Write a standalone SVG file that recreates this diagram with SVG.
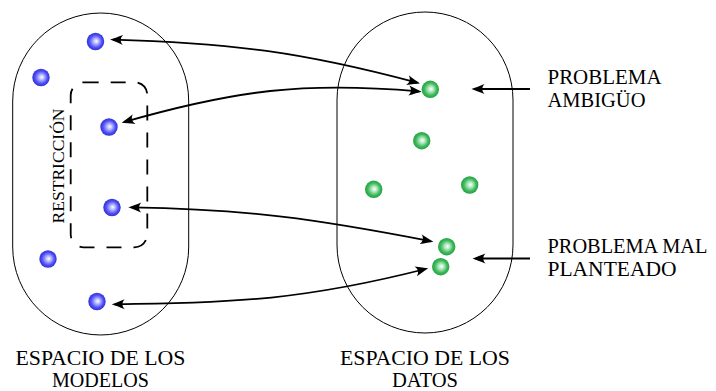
<svg xmlns="http://www.w3.org/2000/svg" width="716" height="391" viewBox="0 0 716 391">
<defs>
<radialGradient id="gb" cx="0.5" cy="0.5" r="0.5" fx="0.55" fy="0.48">
<stop offset="0" stop-color="#ffffff"/>
<stop offset="0.3" stop-color="#b8b8ff"/>
<stop offset="0.7" stop-color="#5252f8"/>
<stop offset="1" stop-color="#2f2fd8"/>
</radialGradient>
<radialGradient id="gg" cx="0.5" cy="0.5" r="0.5" fx="0.55" fy="0.48">
<stop offset="0" stop-color="#ffffff"/>
<stop offset="0.3" stop-color="#b5e8c2"/>
<stop offset="0.7" stop-color="#3dbb5c"/>
<stop offset="1" stop-color="#24a042"/>
</radialGradient>
<marker id="ah" markerUnits="userSpaceOnUse" markerWidth="20" markerHeight="14" viewBox="-16 -7 20 14" refX="-3" refY="0" orient="auto-start-reverse">
<path d="M0,0 C-3,-1 -8,-3 -13,-5 C-10,-2 -10,2 -13,5 C-8,3 -3,1 0,0 Z" fill="#000"/>
</marker>
</defs>
<style>
.space{fill:none;stroke:#000;stroke-width:1}
.restr{fill:none;stroke:#000;stroke-width:1.8;stroke-dasharray:15 12}
.conn{fill:none;stroke:#000;stroke-width:1.8}
.bb{fill:url(#gb)}
.gb{fill:url(#gg)}
.lbl{font-family:"Liberation Serif","DejaVu Serif",serif;font-size:20px;fill:#000}
.mid{text-anchor:middle}
</style>
<g id="espacio-modelos">
<path class="space" d="M12.7,101 A88,88 0 0 1 188.7,101 L188.7,247 A88,88 0 0 1 12.7,247 Z"/>
<text class="lbl mid" x="100.5" y="365" textLength="170" lengthAdjust="spacingAndGlyphs">ESPACIO DE LOS</text>
<text class="lbl mid" x="100.5" y="386.5" textLength="97" lengthAdjust="spacingAndGlyphs">MODELOS</text>
</g>
<g id="espacio-datos">
<path class="space" d="M337,100 A88,88 0 0 1 513,100 L513,245 A88,88 0 0 1 337,245 Z"/>
<text class="lbl mid" x="425" y="365" textLength="170" lengthAdjust="spacingAndGlyphs">ESPACIO DE LOS</text>
<text class="lbl mid" x="425" y="386.5" textLength="66" lengthAdjust="spacingAndGlyphs">DATOS</text>
</g>
<g id="restriccion">
<rect class="restr" x="70.7" y="82.3" width="76.6" height="165" rx="13" ry="13"/>
<text class="lbl mid" style="font-size:16.5px" transform="translate(64,166) rotate(-90)" x="0" y="0" textLength="115" lengthAdjust="spacingAndGlyphs">RESTRICCIÓN</text>
</g>
<g id="modelos-puntos">
<circle class="bb" cx="95.5" cy="41.5" r="8.7"/>
<circle class="bb" cx="41" cy="77.5" r="8.7"/>
<circle class="bb" cx="109" cy="127" r="8.7"/>
<circle class="bb" cx="112" cy="207.5" r="8.7"/>
<circle class="bb" cx="48" cy="259" r="8.7"/>
<circle class="bb" cx="97" cy="301.5" r="8.7"/>
</g>
<g id="datos-puntos">
<circle class="gb" cx="430.3" cy="89.3" r="8.7"/>
<circle class="gb" cx="421.7" cy="140.7" r="8.7"/>
<circle class="gb" cx="373.7" cy="189.3" r="8.7"/>
<circle class="gb" cx="469.7" cy="185" r="8.7"/>
<circle class="gb" cx="446.7" cy="246.7" r="8.7"/>
<circle class="gb" cx="440.7" cy="266.7" r="8.7"/>
</g>
<g id="problema-ambiguo">
<text class="lbl" x="547.5" y="84" textLength="114" lengthAdjust="spacingAndGlyphs">PROBLEMA</text>
<text class="lbl" x="547.5" y="107" textLength="98" lengthAdjust="spacingAndGlyphs">AMBIGÜO</text>
</g>
<g id="problema-mal-planteado">
<text class="lbl" x="547.5" y="253" textLength="160" lengthAdjust="spacingAndGlyphs">PROBLEMA MAL</text>
<text class="lbl" x="547.5" y="276" textLength="129" lengthAdjust="spacingAndGlyphs">PLANTEADO</text>
</g>
<g id="connectors">
<path class="conn" marker-start="url(#ah)" marker-end="url(#ah)" d="M113,39.6 C232,43.1 302,52 417.1,82.7"/>
<path class="conn" marker-start="url(#ah)" marker-end="url(#ah)" d="M124.6,121.9 C235.1,90.2 304.1,81.4 418.7,91.4"/>
<path class="conn" marker-start="url(#ah)" marker-end="url(#ah)" d="M131.3,207.4 C248.3,209.3 315.5,218.8 430.4,241.1"/>
<path class="conn" marker-start="url(#ah)" marker-end="url(#ah)" d="M114.7,304.3 C235.7,303.3 307.5,299 425.4,269"/>
<path class="conn" marker-end="url(#ah)" d="M530,89 L474.5,89"/>
<path class="conn" marker-end="url(#ah)" d="M530,258.5 L475.5,258.5"/>
</g>
</svg>
